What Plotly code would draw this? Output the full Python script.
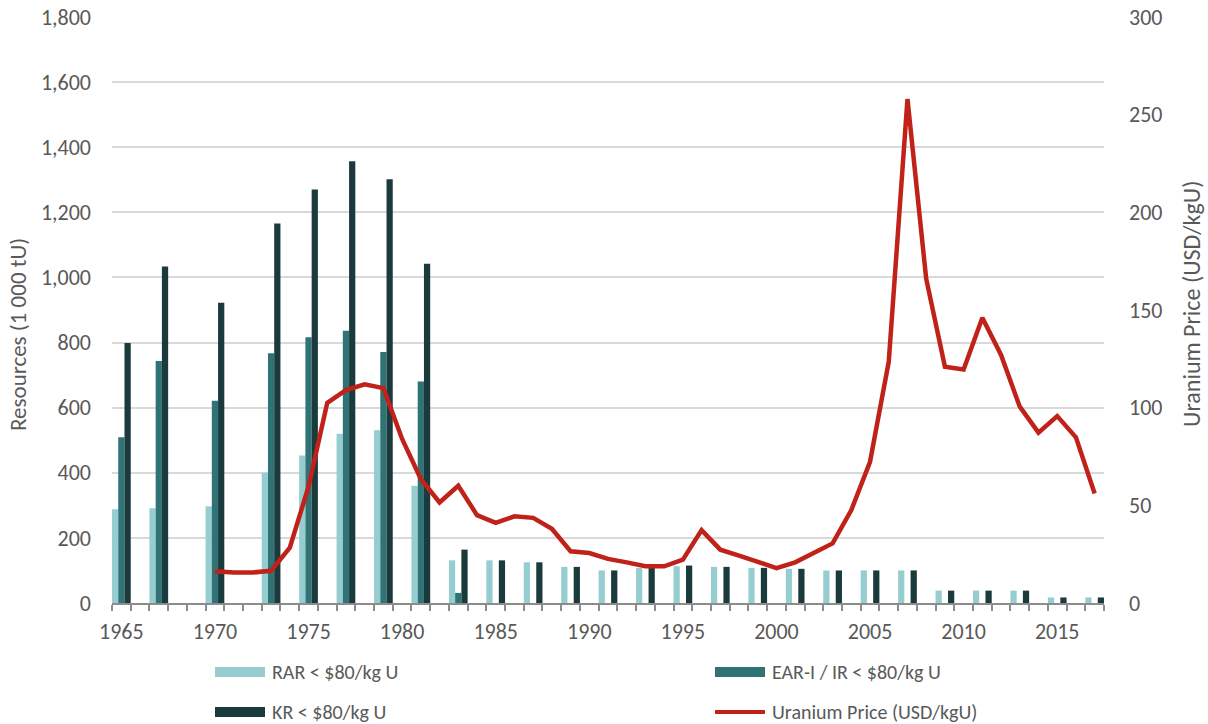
import plotly.graph_objects as go

# ---- data ----
bar_years = [1965, 1967, 1970, 1973, 1975, 1977, 1979, 1981, 1983, 1985, 1987, 1989,
             1991, 1993, 1995, 1997, 1999, 2001, 2003, 2005, 2007, 2009, 2011, 2013,
             2015, 2017]
rar = [288, 291, 297, 400, 453, 520, 531, 360, 131, 131, 125, 111,
       100, 108, 113, 111, 108, 105, 100, 100, 100, 38, 38, 38, 17, 17]
ear = [509, 743, 621, 767, 816, 836, 771, 680, 31, None, None, None,
       None, None, None, None, None, None, None, None, None, None, None, None, None, None]
kr = [799, 1034, 922, 1166, 1270, 1357, 1302, 1042, 164, 131, 125, 111,
      100, 108, 115, 111, 108, 105, 100, 100, 100, 38, 38, 38, 17, 17]

price_years = list(range(1970, 2018))
price = [16.2, 15.6, 15.6, 16.5, 28.3, 59.6, 102.5, 109, 112, 110, 84, 63.5, 51.5,
         60, 45, 41, 44.4, 43.6, 38, 26.5, 25.6, 22.6, 20.8, 18.8, 18.8, 22.2, 37.3,
         27.3, 24.3, 21.4, 17.9, 20.8, 25.6, 30.5, 47.6, 72.3, 123.5, 258, 166, 121,
         119.5, 146, 127, 100.5, 87.2, 95.7, 84.8, 56.1]

label_years = [1965, 1970, 1975, 1980, 1985, 1990, 1995, 2000, 2005, 2010, 2015]

names = ["RAR < $80/kg U", "EAR-I / IR < $80/kg U", "KR < $80/kg U", "Uranium Price (USD/kgU)"]
colors = ["#95CDD0", "#2F7376", "#1B3A3B", "#C0221A"]

# ---- figure geometry ----
W, H = 1208, 724
L, R, T, B = 112, 104, 17, 121
FONT = "Carlito, Calibri, Lato, 'Open Sans', sans-serif"
GREY = "#595959"

fig = go.Figure()
third = 1.0 / 3.0
for k, (vals, nm, col) in enumerate(zip([rar, ear, kr], names[:3], colors[:3])):
    fig.add_trace(go.Bar(x=bar_years, y=vals, name=nm, marker_color=col,
                         marker_line_width=0, showlegend=False,
                         width=third, offset=-0.5 + k * third))
fig.add_trace(go.Scatter(x=price_years, y=price, name=names[3], yaxis="y2",
                         mode="lines", line=dict(color=colors[3], width=4.5),
                         showlegend=False))

fig.update_layout(
    width=W, height=H,
    margin=dict(l=L, r=R, t=T, b=B, autoexpand=False),
    paper_bgcolor="white", plot_bgcolor="white",
    barmode="overlay",
    font=dict(family=FONT, color=GREY, size=20),
    xaxis=dict(range=[1964.5, 2017.5], tickvals=label_years, ticks="",
               automargin=False,
               showgrid=False, showline=True, linecolor="#8c8c8c", linewidth=2,
               tickfont=dict(size=22, color=GREY), ticklabelstandoff=8,
               minor=dict(tick0=1964.5, dtick=1, ticks="outside", ticklen=6,
                          tickcolor="#8c8c8c", tickwidth=2, showgrid=False)),
    yaxis=dict(range=[0, 1800], dtick=200, tickformat=",", showgrid=True,
               automargin=False,
               gridcolor="#d9d9d9", gridwidth=2, zeroline=False,
               tickfont=dict(size=22, color=GREY), ticklabelstandoff=20),
    yaxis2=dict(range=[0, 300], dtick=50, overlaying="y", side="right",
                automargin=False,
                showgrid=False, zeroline=False,
                tickfont=dict(size=22, color=GREY), ticklabelstandoff=24),
)

# ---- paper coordinates from pixel positions ----
def px(xp):
    return (xp - L) / (W - L - R)

def py(yp):
    return (H - B - yp) / (H - T - B)

# axis titles
fig.add_annotation(text="Resources (1 000 tU)", xref="paper", yref="paper",
                   x=px(18), y=py(335), textangle=-90, showarrow=False,
                   xanchor="center", yanchor="middle",
                   font=dict(size=23, color=GREY))
fig.add_annotation(text="Uranium Price (USD/kgU)", xref="paper", yref="paper",
                   x=px(1191), y=py(304), textangle=-90, showarrow=False,
                   xanchor="center", yanchor="middle",
                   font=dict(size=24, color=GREY))

# manual legend
entries = [(215, 672, 0), (715, 672, 1), (215, 712, 2), (715, 712, 3)]
for x0, yc, i in entries:
    if i < 3:
        fig.add_shape(type="rect", xref="paper", yref="paper",
                      x0=px(x0), x1=px(x0 + 50), y0=py(yc - 5), y1=py(yc + 5),
                      fillcolor=colors[i], line_width=0)
    else:
        fig.add_shape(type="line", xref="paper", yref="paper",
                      x0=px(x0), x1=px(x0 + 50), y0=py(yc), y1=py(yc),
                      line=dict(color=colors[i], width=4))
    fig.add_annotation(text=names[i], xref="paper", yref="paper",
                       x=px(x0 + 55), y=py(yc), xanchor="left", yanchor="middle",
                       showarrow=False, font=dict(size=20, color=GREY))

# remove the browser's default 8px body margin so the figure fills the window
fig.write_html("out.html",
               config={"displayModeBar": False},
               post_script="document.body.style.margin='0';document.body.style.overflow='hidden';")
